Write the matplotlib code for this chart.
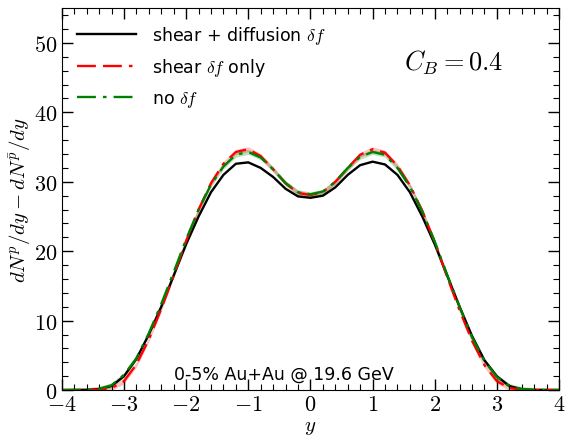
import numpy as np
import matplotlib
matplotlib.use("Agg")
import matplotlib.pyplot as plt
from matplotlib.ticker import MultipleLocator

plt.rcParams["mathtext.fontset"] = "cm"
plt.rcParams["font.family"] = "DejaVu Sans"

# rapidity grid and net-proton dN/dy
rap = [-4.0, -3.6, -3.4, -3.2, -3.0, -2.8, -2.6, -2.4, -2.2, -2.0, -1.8, -1.6,
       -1.4, -1.2, -1.0, -0.8, -0.6, -0.4, -0.2, 0.0, 0.2, 0.4, 0.6, 0.8,
       1.0, 1.2, 1.4, 1.6, 1.8, 2.0, 2.2, 2.4, 2.6, 2.8, 3.0, 3.2, 3.4, 3.6, 4.0]

shear_diff = [0.0, 0.02, 0.15, 0.6, 2.0, 4.5, 8.0, 12.0, 16.5, 21.0, 25.0, 28.5,
              31.0, 32.6, 32.8, 32.0, 30.7, 29.0, 27.9, 27.7, 28.0, 29.2, 31.0, 32.4,
              32.9, 32.5, 31.0, 28.5, 25.0, 21.0, 16.5, 12.0, 7.8, 4.3, 2.0, 0.6, 0.12, 0.02, 0.0]

shear_only = [0.0, 0.01, 0.06, 0.3, 1.3, 3.7, 7.3, 11.7, 16.5, 21.5, 26.0, 29.8,
              32.6, 34.3, 34.7, 33.7, 31.8, 29.8, 28.4, 28.1, 28.5, 30.0, 32.0, 33.9,
              34.7, 34.2, 32.3, 29.5, 25.8, 21.3, 16.3, 11.5, 7.1, 3.6, 1.3, 0.3, 0.06, 0.01, 0.0]

no_df = [0.0, 0.02, 0.2, 0.7, 2.2, 4.6, 8.2, 12.4, 17.0, 21.7, 26.0, 29.6,
         32.2, 33.9, 34.3, 33.5, 31.8, 29.8, 28.5, 28.2, 28.6, 30.0, 32.0, 33.6,
         34.3, 33.9, 32.0, 29.3, 25.7, 21.4, 16.6, 12.0, 7.6, 4.2, 1.9, 0.6, 0.15, 0.02, 0.0]

band_err = 0.35

fig, ax = plt.subplots(figsize=(5.67, 4.39), dpi=100)
fig.subplots_adjust(left=0.109, right=0.986, top=0.979, bottom=0.109)

r = np.array(rap)
so = np.array(shear_only)
nd = np.array(no_df)
ax.fill_between(r, so - band_err, so + band_err, color="red", alpha=0.25, lw=0)
ax.fill_between(r, nd - band_err, nd + band_err, color="green", alpha=0.25, lw=0)

ax.plot(rap, shear_diff, color="black", lw=1.7, label=r"shear + diffusion $\delta f$")
ax.plot(rap, shear_only, color="red", lw=1.7, dashes=(8, 3, 8, 3, 1.5, 3),
        label=r"shear $\delta f$ only")
ax.plot(rap, no_df, color="green", lw=1.7, dashes=(8, 3, 1.5, 3),
        label=r"no $\delta f$")

ax.set_xlim(-4, 4)
ax.set_ylim(0, 55)
ax.xaxis.set_major_locator(MultipleLocator(1))
ax.xaxis.set_minor_locator(MultipleLocator(0.2))
ax.yaxis.set_major_locator(MultipleLocator(10))
ax.yaxis.set_minor_locator(MultipleLocator(2))
ax.tick_params(which="both", direction="in", top=True, right=True, labelsize=16)
ax.tick_params(which="major", length=8, width=1)
ax.tick_params(which="minor", length=4, width=0.8)
ax.tick_params(axis="x", pad=3)
ax.tick_params(axis="y", pad=3)
ax.xaxis.set_major_formatter(plt.FuncFormatter(lambda v, p: r"$%d$" % v))
ax.yaxis.set_major_formatter(plt.FuncFormatter(lambda v, p: r"$%d$" % v))

ax.set_xlabel(r"$y$", fontsize=15, labelpad=1)
ax.set_ylabel(r"$dN^p/dy - dN^{\bar{p}}/dy$", fontsize=15, labelpad=1)

ax.text(2.3, 47.3, r"$C_B = 0.4$", fontsize=19, ha="center", va="center")
ax.text(-2.2, 1.6, "0-5% Au+Au @ 19.6 GeV", fontsize=12.5)

ax.legend(loc="upper left", frameon=False, fontsize=12.5, handlelength=3.4,
          labelspacing=0.6, borderaxespad=0.5, handletextpad=0.9)

plt.savefig("out.png", dpi=100)
